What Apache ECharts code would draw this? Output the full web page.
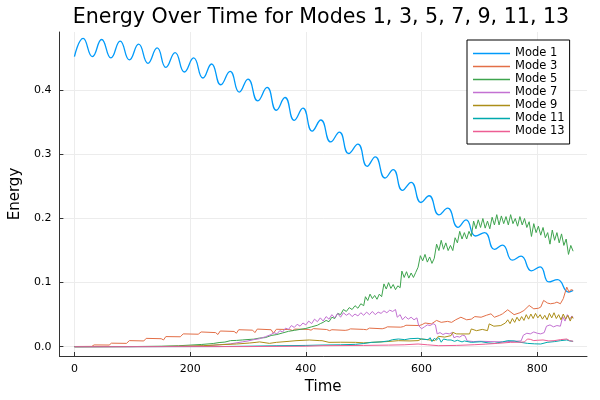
<!DOCTYPE html>
<html>
<head>
<meta charset="utf-8">
<script src="https://cdn.jsdelivr.net/npm/echarts@6/dist/echarts.min.js"></script>
<style>html,body{margin:0;padding:0;background:#fff}#c{width:600px;height:400px}</style>
</head>
<body>
<div id="c"></div>
<script>
const seriesNames = ['Mode 1','Mode 3','Mode 5','Mode 7','Mode 9','Mode 11','Mode 13'];
const xTicks = [0,200,400,600,800];
const yTicks = [0,0.1,0.2,0.3,0.4];

const mode1Time = [0,15,31,47,63,79,95,111,127,143,158,174,190,206,222,237,253,269,285,300,317,333,349,364,380,395,411,426,443,458,474,490,506,520,537,551,567,582,599,613,630,645,663,677,693,709,726,740,757,772,790,805,820,835,854,862];
const mode1Energy = [0.4526,0.4809,0.4526,0.4793,0.4505,0.4767,0.4474,0.4720,0.4422,0.4662,0.4359,0.4589,0.4286,0.4505,0.4192,0.4411,0.4087,0.4296,0.3972,0.4176,0.3836,0.4045,0.3689,0.3888,0.3532,0.3721,0.3365,0.3537,0.3195,0.3349,0.3014,0.3161,0.2815,0.2962,0.2632,0.2763,0.2438,0.2564,0.2250,0.2355,0.2057,0.2161,0.1863,0.1978,0.1727,0.1779,0.1518,0.1586,0.1350,0.1413,0.1183,0.1245,0.1010,0.1047,0.0853,0.0879];

const mode3Points = [[0,0.0003],[30,0.0005],[34,0.0028],[60,0.0026],[64,0.0055],[90,0.0052],[95,0.0095],[120,0.009],[124,0.013],[150,0.0125],[154,0.0105],[158,0.0158],[183,0.0155],[188,0.02],[214,0.0195],[219,0.023],[244,0.022],[248,0.019],[252,0.0245],[276,0.0238],[280,0.021],[284,0.0265],[308,0.0258],[312,0.022],[316,0.0275],[340,0.0265],[344,0.021],[349,0.0272],[372,0.0268],[377,0.0252],[381,0.0275],[404,0.027],[409,0.0258],[413,0.0282],[436,0.0268],[441,0.025],[445,0.0265],[468,0.0255],[473,0.0262],[477,0.0278],[500,0.027],[505,0.0265],[510,0.029],[532,0.028],[537,0.0292],[541,0.031],[564,0.0305],[569,0.0315],[573,0.0335],[596,0.033],[601,0.0345],[606,0.037],[617,0.0356],[626,0.041],[634,0.038],[645,0.0395],[652,0.038],[659,0.042],[668,0.046],[678,0.042],[686,0.043],[692,0.047],[703,0.046],[712,0.049],[720,0.0513],[726,0.046],[735,0.049],[740,0.0513],[749,0.0576],[760,0.05],[770,0.053],[777,0.0565],[786,0.0644],[794,0.0591],[802,0.06],[806,0.0618],[811,0.0722],[818,0.068],[823,0.067],[830,0.068],[834,0.0696],[840,0.067],[845,0.075],[851,0.093],[855,0.085],[858,0.089],[862,0.088]];

const mode5Points = [[0,0],[100,0.0002],[150,0.0008],[180,0.0015],[200,0.0025],[220,0.0035],[240,0.005],[250,0.0065],[260,0.0072],[270,0.0095],[280,0.0098],[290,0.0105],[300,0.0112],[310,0.0118],[320,0.0135],[330,0.0142],[340,0.0175],[350,0.019],[360,0.0215],[370,0.024],[380,0.0255],[390,0.027],[400,0.0285],[410,0.031],[420,0.0335],[425,0.036],[430,0.038],[435,0.041],[440,0.039],[445,0.046],[450,0.044],[455,0.052],[460,0.05],[465,0.058],[470,0.055],[475,0.061],[480,0.058],[485,0.064],[490,0.06],[495,0.067],[500,0.064],[503,0.078],[507,0.072],[511,0.082],[515,0.075],[519,0.08],[523,0.074],[527,0.082],[531,0.078],[535,0.098],[539,0.09],[543,0.1],[547,0.091],[551,0.097],[555,0.089],[559,0.095],[563,0.092],[566,0.118],[570,0.108],[574,0.117],[578,0.107],[582,0.115],[586,0.108],[590,0.116],[594,0.124],[598,0.142],[602,0.134],[606,0.144],[610,0.132],[614,0.14],[618,0.13],[622,0.138],[626,0.16],[630,0.15],[634,0.166],[638,0.152],[642,0.162],[646,0.15],[650,0.158],[654,0.15],[658,0.17],[662,0.162],[666,0.18],[670,0.168],[674,0.178],[678,0.168],[682,0.18],[686,0.172],[690,0.196],[694,0.184],[698,0.198],[702,0.186],[706,0.2],[710,0.185],[714,0.196],[718,0.184],[722,0.202],[726,0.19],[730,0.206],[734,0.19],[738,0.204],[742,0.192],[746,0.203],[750,0.19],[754,0.206],[758,0.192],[762,0.2],[766,0.188],[770,0.203],[774,0.19],[778,0.2],[782,0.186],[786,0.195],[790,0.172],[794,0.192],[798,0.178],[802,0.188],[806,0.174],[810,0.186],[814,0.17],[818,0.178],[822,0.16],[826,0.182],[830,0.166],[834,0.178],[838,0.162],[842,0.176],[846,0.158],[850,0.168],[854,0.144],[858,0.158],[862,0.149]];

const mode7Points = [[0,0],[150,0.0002],[200,0.0008],[230,0.0016],[250,0.003],[270,0.0045],[290,0.0075],[300,0.009],[310,0.011],[320,0.0125],[330,0.0155],[340,0.019],[345,0.022],[350,0.02],[355,0.025],[360,0.023],[365,0.029],[370,0.027],[375,0.033],[380,0.03],[385,0.035],[390,0.032],[395,0.037],[400,0.034],[405,0.04],[410,0.036],[415,0.043],[420,0.039],[425,0.045],[430,0.04],[435,0.047],[440,0.043],[445,0.05],[450,0.045],[455,0.052],[460,0.046],[465,0.053],[470,0.049],[475,0.052],[480,0.047],[485,0.051],[490,0.048],[495,0.053],[500,0.049],[505,0.054],[510,0.05],[515,0.055],[520,0.05],[525,0.054],[530,0.052],[535,0.056],[540,0.053],[545,0.057],[550,0.055],[555,0.058],[558,0.046],[563,0.05],[567,0.042],[572,0.047],[577,0.043],[582,0.046],[587,0.042],[592,0.045],[595,0.033],[600,0.028],[605,0.031],[610,0.034],[615,0.033],[620,0.036],[624,0.034],[627,0.02],[632,0.022],[637,0.019],[642,0.021],[648,0.02],[653,0.022],[656,0.014],[661,0.016],[666,0.015],[671,0.018],[675,0.017],[679,0.009],[690,0.008],[700,0.0085],[720,0.008],[740,0.0075],[760,0.0085],[772,0.009],[776,0.018],[782,0.021],[788,0.02],[794,0.023],[800,0.021],[806,0.02],[812,0.022],[816,0.032],[822,0.034],[828,0.031],[834,0.033],[840,0.032],[844,0.047],[848,0.04],[852,0.05],[856,0.043],[860,0.048],[862,0.045]];

const mode9Points = [[0,0],[150,0.0003],[200,0.001],[223,0.0016],[250,0.003],[280,0.0042],[303,0.0058],[314,0.0068],[320,0.0075],[337,0.0052],[349,0.0068],[371,0.0084],[383,0.0094],[406,0.0105],[423,0.0095],[428,0.0094],[440,0.0068],[460,0.007],[486,0.0068],[500,0.006],[514,0.0068],[540,0.008],[560,0.0094],[580,0.009],[594,0.0095],[600,0.012],[610,0.011],[623,0.0094],[629,0.0162],[640,0.015],[651,0.0173],[654,0.0225],[660,0.02],[668,0.0199],[683,0.0199],[686,0.0277],[695,0.025],[705,0.027],[714,0.0251],[717,0.0356],[725,0.032],[737,0.033],[745,0.037],[749,0.042],[753,0.036],[757,0.044],[761,0.038],[765,0.046],[769,0.04],[773,0.047],[777,0.041],[781,0.05],[785,0.043],[789,0.051],[793,0.044],[797,0.052],[801,0.045],[805,0.05],[809,0.043],[813,0.049],[817,0.042],[821,0.052],[825,0.045],[829,0.053],[833,0.044],[837,0.05],[841,0.042],[845,0.051],[849,0.043],[853,0.049],[857,0.04],[860,0.047],[862,0.044]];

const mode11Points = [[0,0],[250,0.0002],[300,0.0008],[350,0.0015],[400,0.002],[428,0.0026],[460,0.003],[486,0.0037],[500,0.005],[514,0.0068],[530,0.0075],[543,0.009],[550,0.011],[560,0.012],[571,0.011],[580,0.0125],[594,0.0131],[600,0.012],[611,0.011],[615,0.014],[618,0.008],[622,0.013],[626,0.0105],[630,0.014],[634,0.007],[638,0.012],[645,0.0105],[651,0.0105],[654,0.013],[657,0.0084],[662,0.01],[670,0.0075],[674,0.009],[686,0.0068],[703,0.0078],[715,0.006],[726,0.0052],[740,0.0075],[749,0.0094],[760,0.009],[770,0.007],[783,0.0052],[795,0.0045],[806,0.0042],[817,0.0068],[830,0.008],[840,0.0094],[851,0.0105],[856,0.009],[862,0.0084]];

const mode13Points = [[0,0],[300,0.0002],[400,0.0008],[428,0.0016],[500,0.002],[543,0.0025],[570,0.003],[594,0.0042],[610,0.003],[629,0.0016],[660,0.002],[691,0.0031],[710,0.004],[731,0.0052],[754,0.0068],[770,0.007],[778,0.0075],[783,0.012],[788,0.0115],[794,0.0095],[800,0.01],[810,0.0105],[820,0.009],[829,0.0094],[840,0.011],[851,0.012],[856,0.0095],[862,0.0084]];

const colors = ['#009AFA','#E36F47','#3EA44E','#C371D2','#AC8E18','#00A9AD','#ED5E93'];
const FONT = 'DejaVu Sans';

const mode1Points = mode1Time.map((t, i) => [t, mode1Energy[i]]);
const allPoints = [mode1Points, mode3Points, mode5Points, mode7Points, mode9Points, mode11Points, mode13Points];

const chart = echarts.init(document.getElementById('c'), null, {renderer: 'canvas'});
chart.setOption({
  animation: false,
  backgroundColor: '#ffffff',
  color: colors,
  title: {
    text: 'Energy Over Time for Modes 1, 3, 5, 7, 9, 11, 13',
    left: 316, top: 2, textAlign: 'center',
    textStyle: {fontFamily: FONT, fontSize: 20.6, fontWeight: 'normal', color: '#000'}
  },
  grid: {left: 55, right: 13, top: 32, bottom: 44, containLabel: false},
  legend: {
    orient: 'vertical', left: 467, top: 40,
    data: seriesNames,
    icon: 'rect', itemWidth: 37, itemHeight: 1.4, itemGap: 0,
    padding: [7, 5, 6, 6],
    borderColor: '#000', borderWidth: 1, backgroundColor: '#fff',
    textStyle: {fontFamily: FONT, fontSize: 11.5, color: '#000', lineHeight: 13}
  },
  xAxis: {
    type: 'value', min: -26, max: 886,
    name: 'Time', nameLocation: 'middle', nameGap: 22,
    nameTextStyle: {fontFamily: FONT, fontSize: 15, color: '#000'},
    axisLine: {onZero: false, lineStyle: {color: '#333', width: 1}},
    axisTick: {inside: true, length: 4, customValues: xTicks, lineStyle: {color: '#333'}},
    axisLabel: {customValues: xTicks, fontFamily: FONT, fontSize: 11, color: '#000', margin: 8},
    splitLine: {show: true, lineStyle: {color: '#ececec', width: 1}}
  },
  yAxis: {
    type: 'value', min: -0.0145, max: 0.491,
    name: 'Energy', nameLocation: 'middle', nameGap: 36, nameRotate: 90,
    nameTextStyle: {fontFamily: FONT, fontSize: 15, color: '#000'},
    axisLine: {show: true, onZero: false, lineStyle: {color: '#333', width: 1}},
    axisTick: {show: true, inside: true, length: 4, customValues: yTicks, lineStyle: {color: '#333'}},
    axisLabel: {customValues: yTicks, fontFamily: FONT, fontSize: 11, color: '#000', margin: 8,
      formatter: v => v.toFixed(1)},
    splitLine: {show: true, lineStyle: {color: '#ececec', width: 1}}
  },
  series: seriesNames.map((name, i) => ({
    name: name, type: 'line', data: allPoints[i],
    showSymbol: false, symbol: 'none',
    smooth: i === 0 ? 0.5 : false,
    lineStyle: {width: i === 0 ? 1.3 : 1, color: colors[i]},
    itemStyle: {color: colors[i]}
  }))
});
</script>
</body>
</html>
